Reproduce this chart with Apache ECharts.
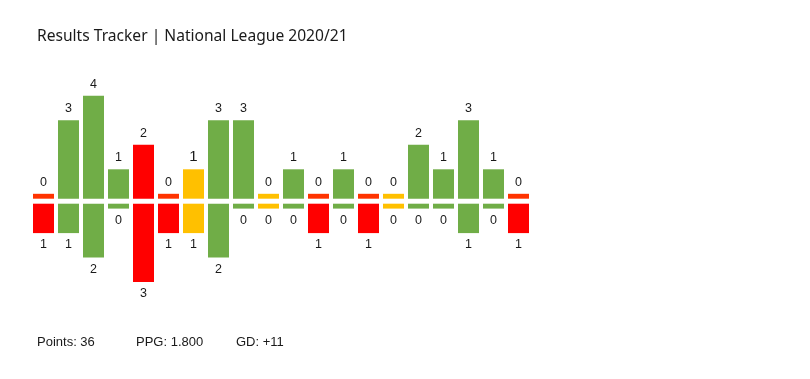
<!DOCTYPE html>
<html><head><meta charset="utf-8">
<script src="https://cdn.jsdelivr.net/npm/echarts@6/dist/echarts.min.js"></script>
<style>html,body{margin:0;padding:0;background:#fff}#c{width:810px;height:379px}</style>
</head><body><div id="c"></div>
<script>
const matches = ['1','2','3','4','5','6','7','8','9','10','11','12','13','14','15','16','17','18','19','20'];
const scored   = [0,3,4,1,2,0,1,3,3,0,1,0,1,0,0,2,1,3,1,0];
const conceded = [1,1,2,0,3,1,1,2,0,0,0,1,0,1,0,0,0,1,0,1];
const summary = ['Points: 36','PPG: 1.800','GD: +11'];
const titleText = 'Results Tracker | National League 2020/21';

const GREEN='#70AD47', RED='#FF0000', RED0='#FF3300', YELLOW='#FFC000';
const STUB = 0.2;
function colorFor(i, v){
  const r = scored[i]>conceded[i] ? 'W' : (scored[i]<conceded[i] ? 'L' : 'D');
  if (r==='W') return GREEN;
  if (r==='D') return YELLOW;
  return v===0 ? RED0 : RED;
}
function build(arr, isTop){
  return arr.map((v,i)=>{
    const item = {value: v+STUB, real: v, itemStyle:{color: colorFor(i,v)}};
    if (isTop && scored[i]===conceded[i] && v>0) item.label = {fontSize:15};
    return item;
  });
}
const chart = echarts.init(document.getElementById('c'));
const gridLeft=31, gridW=500, unit=24.5, axMax=4.5, base=198.7, gap=5;
const labelStyle = {show:true, fontFamily:'Liberation Sans, Arial, sans-serif', fontSize:12.5, color:'#1a1a1a',
  formatter:p=>String(p.data.real)};
const foot = {fontFamily:'Liberation Sans, Arial', fontWeight:'normal', fontSize:13, color:'#1a1a1a'};
chart.setOption({
  animation:false,
  backgroundColor:'#fff',
  title:[
    {text:titleText, left:37, top:29, padding:0, textStyle:{fontFamily:'Noto Sans, Open Sans, sans-serif', fontWeight:'normal', fontSize:15.6, color:'#1a1a1a'}},
    {text:summary[0], left:37, top:336, padding:0, textStyle:foot},
    {text:summary[1], left:136, top:336, padding:0, textStyle:foot},
    {text:summary[2], left:236, top:336, padding:0, textStyle:foot}
  ],
  grid:[
    {left:gridLeft, width:gridW, top:base-axMax*unit, height:axMax*unit},
    {left:gridLeft, width:gridW, top:base+gap, height:axMax*unit}
  ],
  xAxis:[
    {type:'category', data:matches, gridIndex:0, show:false},
    {type:'category', data:matches, gridIndex:1, show:false}
  ],
  yAxis:[
    {type:'value', gridIndex:0, min:0, max:axMax, show:false},
    {type:'value', gridIndex:1, min:0, max:axMax, inverse:true, show:false}
  ],
  series:[
    {type:'bar', xAxisIndex:0, yAxisIndex:0, data:build(scored,true), barWidth:'84%',
      label:Object.assign({position:'top', distance:5}, labelStyle)},
    {type:'bar', xAxisIndex:1, yAxisIndex:1, data:build(conceded,false), barWidth:'84%',
      label:Object.assign({position:'bottom', distance:5}, labelStyle)}
  ]
});
</script></body></html>
